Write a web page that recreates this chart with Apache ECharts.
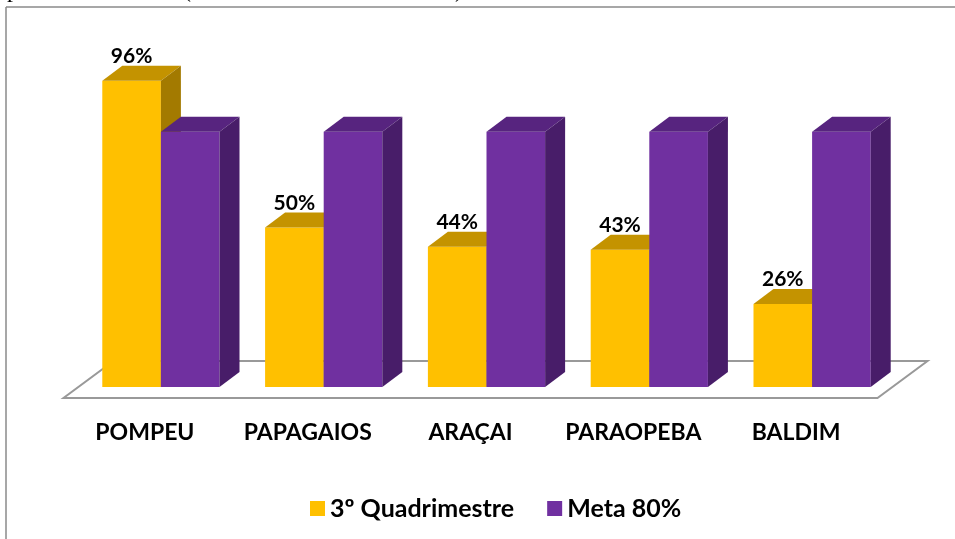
<!DOCTYPE html>
<html>
<head>
<meta charset="utf-8">
<script src="https://cdn.jsdelivr.net/npm/echarts@6/dist/echarts.min.js"></script>
<style>
    html, body { margin: 0; padding: 0; background: #fff; }
    #chart { width: 955px; height: 539px; }
</style>
</head>
<body>
<div id="chart"></div>
<script>
// dados
var categorias = ['POMPEU', 'PAPAGAIOS', 'ARAÇAI', 'PARAOPEBA', 'BALDIM'];
var quadrimestre = [96, 50, 44, 43, 26];
var meta = [80, 80, 80, 80, 80];
var nomes = ['3º Quadrimestre', 'Meta 80%'];

// profundidade do efeito 3d (px)
var DX = 20, DY = 15;
var FONTE = 'Lato, "Noto Sans", sans-serif';

function barra3d(lado, cores, rotulo) {
    return function(params, api) {
        var i = api.value(0), v = api.value(1);
        var p = api.coord([i, v]);
        var b = api.coord([i, 0]);
        var w = api.size([1, 0])[0] * 0.36;
        var x0 = lado < 0 ? p[0] - w : p[0];
        var x1 = x0 + w;
        var yt = p[1], yb = b[1];
        var filhos = [
            { type: 'rect', shape: { x: x0, y: yt, width: w, height: yb - yt }, style: { fill: cores[0] } },
            { type: 'polygon', shape: { points: [[x0, yt], [x1, yt], [x1 + DX, yt - DY], [x0 + DX, yt - DY]] }, style: { fill: cores[1] } },
            { type: 'polygon', shape: { points: [[x1, yt], [x1 + DX, yt - DY], [x1 + DX, yb - DY], [x1, yb]] }, style: { fill: cores[2] } }
        ];
        if (rotulo) {
            filhos.push({
                type: 'text',
                style: {
                    text: v + '%', x: (x0 + x1) / 2, y: yt - DY + 1,
                    align: 'center', verticalAlign: 'bottom',
                    font: 'bold 21px ' + FONTE, fill: '#000'
                }
            });
        }
        return { type: 'group', children: filhos };
    };
}

// piso (plano) desenhado a partir do grid
function piso(params, api) {
    var c = params.coordSys;
    var xa = c.x - 16, xb = c.x + c.width - 16, yf = c.y + c.height + 11;
    var ox = 50, oy = 37;
    return {
        type: 'polygon',
        shape: { points: [[xa, yf], [xb, yf], [xb + ox, yf - oy], [xa + ox, yf - oy]] },
        style: { fill: '#fff', stroke: '#999', lineWidth: 2 }
    };
}

var myChart = echarts.init(document.getElementById('chart'));
var option = {
    animation: false,
    legend: {
        data: nomes,
        top: 491,
        left: 305,
        icon: 'rect',
        itemWidth: 15,
        itemHeight: 15,
        itemGap: 33,
        textStyle: { fontFamily: FONTE, fontSize: 25, fontWeight: 'bold', color: '#000' }
    },
    grid: { left: 79.5, right: 61.5, top: 68, bottom: 152 },
    xAxis: {
        type: 'category',
        data: categorias,
        axisLine: { show: false },
        axisTick: { show: false },
        axisLabel: {
            interval: 0,
            hideOverlap: false,
            margin: 34,
            padding: [0, 32, 0, 0],
            fontFamily: FONTE, fontSize: 23, fontWeight: 'bold', color: '#000'
        }
    },
    yAxis: {
        type: 'value', min: 0, max: 100,
        show: false,
        splitLine: { show: false }
    },
    graphic: [
        { type: 'line', shape: { x1: 6, y1: 7, x2: 955, y2: 7 }, style: { stroke: '#8a8a8a', lineWidth: 1.5 } },
        { type: 'line', shape: { x1: 6, y1: 7, x2: 6, y2: 539 }, style: { stroke: '#8a8a8a', lineWidth: 1.5 } },
        { type: 'text', left: 7, top: -21, style: { text: 'p', font: '24px "Liberation Serif", serif', fill: '#000' } },
        { type: 'text', left: 183, top: -21, style: { text: '(', font: '24px "Liberation Serif", serif', fill: '#000' } },
        { type: 'text', left: 455, top: -21, style: { text: ')', font: '24px "Liberation Serif", serif', fill: '#000' } }
    ],
    series: [{
        type: 'custom',
        name: 'piso',
        silent: true,
        z: 1,
        renderItem: piso,
        data: [[0, 0]]
    }, {
        type: 'custom',
        name: nomes[0],
        z: 2,
        itemStyle: { color: '#FFC000' },
        renderItem: barra3d(-1, ['#FFC000', '#C49300', '#A37A00'], true),
        encode: { x: 0, y: 1 },
        data: quadrimestre.map(function(v, i) { return [i, v]; })
    }, {
        type: 'custom',
        name: nomes[1],
        z: 3,
        itemStyle: { color: '#7030A0' },
        renderItem: barra3d(1, ['#7030A0', '#57247F', '#481D69'], false),
        encode: { x: 0, y: 1 },
        data: meta.map(function(v, i) { return [i, v]; })
    }]
};
myChart.setOption(option);
</script>
</body>
</html>
